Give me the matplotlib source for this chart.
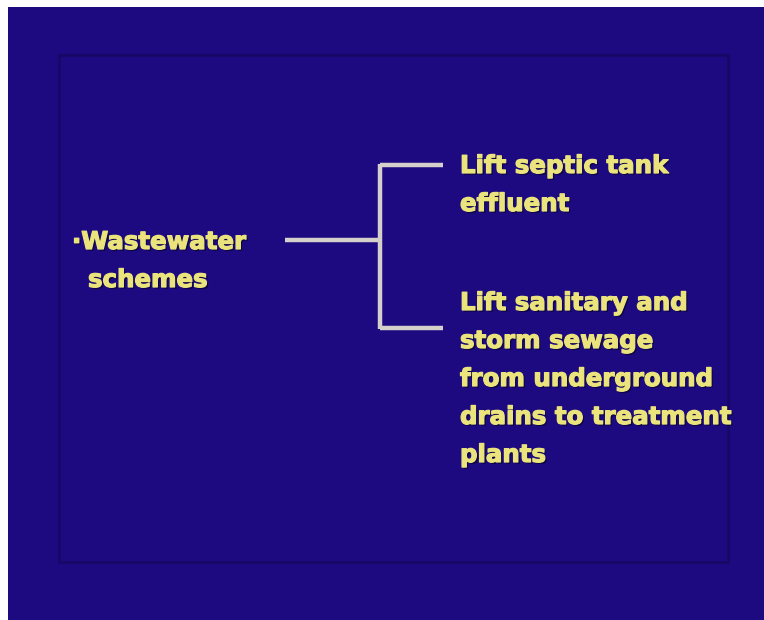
import matplotlib
matplotlib.use("Agg")
import matplotlib.pyplot as plt
import matplotlib.patheffects as pe
from matplotlib.patches import Rectangle

# slide content
left_lines = ["\u00b7Wastewater", "schemes"]
branch_top = ["Lift septic tank", "effluent"]
branch_bottom = ["Lift sanitary and", "storm sewage", "from underground",
                 "drains to treatment", "plants"]

BG = "#1d0a80"
TXT = "#ebe47c"
LINE = "#d6d0cc"

fig = plt.figure(figsize=(7.64, 6.2), dpi=100)
fig.patch.set_facecolor("white")
ax = fig.add_axes([0, 0, 1, 1])
ax.set_xlim(0, 764); ax.set_ylim(620, 0); ax.axis("off")

# slide background + faint inner frame
ax.add_patch(Rectangle((8, 7), 756, 613, facecolor=BG, edgecolor="none"))
ax.add_patch(Rectangle((59, 55), 669, 507, facecolor="none",
                       edgecolor="#170868", lw=2))

shadow = [pe.SimplePatchShadow(offset=(1.3, -1.3), shadow_rgbFace="#0c0540", alpha=0.9),
          pe.Stroke(linewidth=0.9, foreground=TXT), pe.Normal()]
kw = dict(color=TXT, fontsize=17.6, fontweight="bold", family="DejaVu Sans",
          va="baseline", ha="left", path_effects=shadow)

# left label
ax.text(72, 249, left_lines[0], **kw)
ax.text(88, 287, left_lines[1], **kw)

# bracket
lk = dict(color=LINE, lw=3.2, solid_capstyle="butt")
ax.plot([285, 380], [240, 240], **lk)
ax.plot([380, 380], [164, 329], **lk)
ax.plot([380, 443], [165, 165], **lk)
ax.plot([380, 443], [328, 328], **lk)

# right branches
step = 38
for i, s in enumerate(branch_top):
    ax.text(460, 173 + i * step, s, **kw)
for i, s in enumerate(branch_bottom):
    ax.text(460, 310 + i * step, s, **kw)

fig.savefig("out.png", dpi=100)
